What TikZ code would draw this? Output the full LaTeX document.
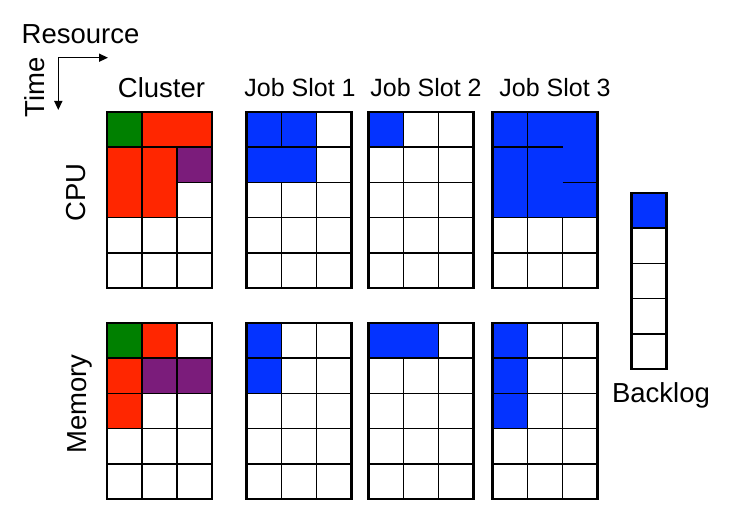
\documentclass[tikz,border=0pt]{standalone}
\usepackage{fontspec}
\setmainfont{Liberation Sans}
\usetikzlibrary{arrows.meta}

\definecolor{jobgreen}{HTML}{008000}
\definecolor{jobred}{HTML}{FF2600}
\definecolor{jobpurple}{HTML}{7B1C7B}
\definecolor{jobblue}{HTML}{0433FF}

% one block of a job: colour, left, top, width and height in cells
\newcommand{\jobblock}[5]{\filldraw[cellline,fill=#1] (#2,#3) rectangle ++(#4*35,#5*35.2);}

\begin{document}
\begin{tikzpicture}[x=1pt,y=-1pt,
	cellline/.style={draw=black,line width=1.5pt},
	frameline/.style={draw=black,line width=2.6pt},
	biglabel/.style={font=\fontsize{27.5}{30}\selectfont,inner sep=0pt},
	slotlabel/.style={font=\fontsize{25}{28}\selectfont,inner sep=0pt}]
\useasboundingbox (0,0) rectangle (729,519);

% axes
\coordinate (corner) at (58.3,57.7);
\coordinate (resend) at (108,57.7);
\coordinate (timeend) at (58.3,110);
\draw[line width=1.4pt,-{Triangle[length=9pt,width=8pt]}] (corner) -- (resend);
\draw[line width=1.4pt,-{Triangle[length=9pt,width=8pt]}] (corner) -- (timeend);
\node[biglabel,anchor=base] (resource) at (80.5,43.3) {Resource};
\node[biglabel,anchor=base,rotate=90] (time) at (44,87.5) {Time};

% white cells of cluster and job slots
\foreach \px in {107,246.5,368.5,492.5}
	\foreach \py in {112,323}
		\foreach \i in {0,1,2}
			\foreach \j in {0,...,4}
				\draw[cellline] (\px+\i*35,\py+\j*35.2) rectangle ++(35,35.2);
% backlog cells
\foreach \j in {0,...,4}
	\draw[cellline] (631.5,193+\j*35.2) rectangle ++(35,35.2);

% cluster, CPU
\jobblock{jobgreen}{107}{112}{1}{1}
\jobblock{jobred}{142}{112}{2}{1}
\jobblock{jobred}{107}{147.2}{1}{2}
\jobblock{jobred}{142}{147.2}{1}{2}
\jobblock{jobpurple}{177}{147.2}{1}{1}
% cluster, memory
\jobblock{jobgreen}{107}{323}{1}{1}
\jobblock{jobred}{142}{323}{1}{1}
\jobblock{jobred}{107}{358.2}{1}{1}
\jobblock{jobred}{107}{393.4}{1}{1}
\jobblock{jobpurple}{142}{358.2}{1}{1}
\jobblock{jobpurple}{177}{358.2}{1}{1}

% job slot 1
\jobblock{jobblue}{246.5}{112}{1}{1}
\jobblock{jobblue}{281.5}{112}{1}{1}
\jobblock{jobblue}{246.5}{147.2}{2}{1}
\jobblock{jobblue}{246.5}{323}{1}{1}
\jobblock{jobblue}{246.5}{358.2}{1}{1}

% job slot 2
\jobblock{jobblue}{368.5}{112}{1}{1}
\jobblock{jobblue}{368.5}{323}{2}{1}

% job slot 3
\jobblock{jobblue}{492.5}{112}{3}{3}
\draw[cellline] (527.5,112) -- (527.5,217.6);
\draw[cellline] (492.5,147.2) -- (562.5,147.2);
\draw[cellline] (562.5,182.4) -- (597.5,182.4);
\jobblock{jobblue}{492.5}{323}{1}{1}
\jobblock{jobblue}{492.5}{358.2}{1}{1}
\jobblock{jobblue}{492.5}{393.4}{1}{1}

% backlog
\jobblock{jobblue}{631.5}{193}{1}{1}

% frames
\foreach \px in {107,246.5,368.5,492.5}
	\foreach \py in {112,323}
		\draw[frameline] (\px,\py) rectangle ++(105,176);
\draw[frameline] (631.5,193) rectangle ++(35,176);

% labels
\node[biglabel,anchor=base] (cluster) at (161.5,98) {Cluster};
\node[slotlabel,anchor=base] (slot1) at (300,96) {Job Slot 1};
\node[slotlabel,anchor=base] (slot2) at (426,96) {Job Slot 2};
\node[slotlabel,anchor=base] (slot3) at (555,96) {Job Slot 3};
\node[biglabel,anchor=base,rotate=90] (cpu) at (85,192.5) {CPU};
\node[biglabel,anchor=base,rotate=90] (memory) at (86.7,404) {Memory};
\node[biglabel,anchor=base] (backlog) at (661,402) {Backlog};
\end{tikzpicture}
\end{document}
